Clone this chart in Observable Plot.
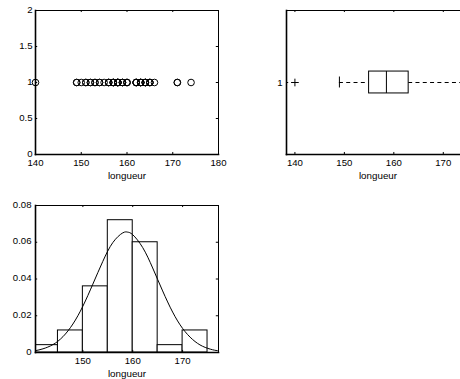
<!DOCTYPE html>
<html><head><meta charset="utf-8">
<script src="https://cdn.jsdelivr.net/npm/d3@7"></script>
<script src="https://cdn.jsdelivr.net/npm/@observablehq/plot@0.6"></script>
<style>
html,body{margin:0;padding:0;background:#fff;overflow:hidden;width:460px;height:379px}
#wrap{position:relative;width:460px;height:379px;overflow:hidden}
.p{position:absolute}
.p svg{max-width:none !important}
</style></head><body><div id="wrap"></div>
<script>
// Data (longueur, n = 50)
const longueur = [140, 149, 149, 150, 151, 151, 152, 152, 153, 153, 154, 154, 155,
  156, 156, 156, 157, 157, 157, 157, 158, 158, 158, 158, 158, 159, 159, 159, 160, 160, 160,
  162, 162, 162, 162, 163, 163, 163, 163, 164, 164, 164, 164, 165, 165, 165,
  166, 171, 171, 174];
const xTicks1 = [140, 150, 160, 170, 180];
const yTicks1 = [0, 0.5, 1, 1.5, 2];

// Boxplot statistics
const boxQ1 = [155], boxMedian = [158.5], boxQ3 = [163];
const whiskerLow = [149], whiskerHigh = [174];
const outliers = [140];
const xTicks2 = [140, 150, 160, 170];
const yTicks2 = [1];

// Histogram (density) and fitted normal curve
const binEdges = [140, 145, 150, 155, 160, 165, 170, 175];
const density = [0.004, 0.012, 0.036, 0.072, 0.060, 0.004, 0.012];
const curveX = [140.5, 142, 144, 146, 148, 150, 152, 154, 156, 158, 159, 160, 162, 164, 166, 168, 170, 172, 174, 176, 177.2];
const curveY = [0.0010, 0.0020, 0.0043, 0.0086, 0.0155, 0.0252, 0.0372, 0.0496, 0.0598, 0.0651, 0.0655, 0.0641, 0.0571, 0.0460, 0.0335, 0.0220, 0.0131, 0.0071, 0.0034, 0.0015, 0.0009];
const xTicks3 = [150, 160, 170];
const yTicks3 = [0, 0.02, 0.04, 0.06, 0.08];

const FONT = '"Liberation Sans", Arial, Helvetica, sans-serif';
const style = {fontFamily: FONT, fontSize: "9.6px", color: "#000", background: "transparent", overflow: "visible"};

function innerTicks(xt, yt, xd, yd, both = true) {
  const fx = (xd[1] - xd[0]) * 0.012, fy = (yd[1] - yd[0]) * 0.014;
  const m = [
    Plot.ruleX(xt, {x: d => d, y1: yd[0], y2: yd[0] + fy, stroke: "#000", strokeWidth: 1}),
    Plot.ruleX(xt, {x: d => d, y1: yd[1], y2: yd[1] - fy, stroke: "#000", strokeWidth: 1}),
    Plot.ruleY(yt, {y: d => d, x1: xd[0], x2: xd[0] + fx, stroke: "#000", strokeWidth: 1})
  ];
  if (both) m.push(Plot.ruleY(yt, {y: d => d, x1: xd[1], x2: xd[1] - fx, stroke: "#000", strokeWidth: 1}));
  return m;
}
function border() {
  return [
    Plot.frame({stroke: "#000", strokeWidth: 1}),
    Plot.frame({anchor: "left", stroke: "#000", strokeWidth: 1.6}),
    Plot.frame({anchor: "bottom", stroke: "#000", strokeWidth: 1.6})
  ];
}

function place(svg, left, top) {
  const d = document.createElement("div");
  d.className = "p"; d.style.left = left + "px"; d.style.top = top + "px";
  d.style.width = svg.getAttribute("width") + "px";
  svg.style.maxWidth = "none";
  d.appendChild(svg);
  document.getElementById("wrap").appendChild(d);
}

// Panel 1: points
const xd1 = [140, 180], yd1 = [0, 2];
const p1 = Plot.plot({
  width: 230, height: 190, marginLeft: 35, marginRight: 12, marginTop: 10, marginBottom: 36,
  style,
  x: {domain: xd1}, y: {domain: yd1},
  marks: [
    ...border(),
    ...innerTicks(xTicks1, yTicks1, xd1, yd1),
    Plot.axisX(xTicks1, {tickSize: 0, tickPadding: 5, label: null}),
    Plot.axisY(yTicks1, {tickSize: 0, tickPadding: 3, label: null, dy: -1, tickFormat: d => String(d)}),
    Plot.dot(longueur, {x: d => d, y: () => 1, r: 3.3, stroke: "#000", strokeWidth: 1}),
    Plot.text(["longueur"], {frameAnchor: "bottom", lineAnchor: "middle", dy: 21, fill: "#000", fontSize: 9.8})
  ]
});
place(p1, 0, 0);

// Panel 2: boxplot
const xd2 = [138.3, 175.3], yd2 = [0.5, 1.5];
const hb = 0.076, hc = 0.038;
const p2 = Plot.plot({
  width: 250, height: 190, marginLeft: 56, marginRight: 11, marginTop: 10, marginBottom: 36,
  style,
  x: {domain: xd2}, y: {domain: yd2},
  marks: [
    ...border(),
    ...innerTicks(xTicks2, yTicks2, xd2, yd2, false),
    Plot.axisX(xTicks2, {tickSize: 0, tickPadding: 5, label: null}),
    Plot.axisY(yTicks2, {tickSize: 0, tickPadding: 4, label: null, tickFormat: d => String(d)}),
    Plot.ruleY([0], {x1: () => whiskerLow[0], x2: () => boxQ1[0], y: () => 1, stroke: "#000", strokeDasharray: "4,3.3"}),
    Plot.ruleY([0], {x1: () => boxQ3[0], x2: () => whiskerHigh[0], y: () => 1, stroke: "#000", strokeDasharray: "4,3.3"}),
    Plot.ruleX(whiskerLow, {x: d => d, y1: 1 - hc, y2: 1 + hc, stroke: "#000"}),
    Plot.ruleX(whiskerHigh, {x: d => d, y1: 1 - hc, y2: 1 + hc, stroke: "#000"}),
    Plot.rect([0], {x1: () => boxQ1[0], x2: () => boxQ3[0], y1: 1 - hb, y2: 1 + hb, fill: "#fff", stroke: "#000"}),
    Plot.ruleX(boxMedian, {x: d => d, y1: 1 - hb, y2: 1 + hb, stroke: "#000"}),
    Plot.dot(outliers, {x: d => d, y: () => 1, symbol: "plus", r: 2.6, stroke: "#000", strokeWidth: 1}),
    Plot.text(["longueur"], {frameAnchor: "bottom", lineAnchor: "middle", dy: 21, fill: "#000", fontSize: 9.8})
  ]
});
place(p2, 230, 0);

// Panel 3: histogram + normal fit
const xd3 = [140.5, 177.2], yd3 = [0, 0.08];
const bins = density.map((v, i) => ({x1: binEdges[i], x2: binEdges[i + 1], y: v}));
const curve = curveX.map((x, i) => ({x, y: curveY[i]}));
const p3 = Plot.plot({
  width: 230, height: 189, marginLeft: 35, marginRight: 12, marginTop: 15, marginBottom: 27,
  style,
  x: {domain: xd3}, y: {domain: yd3},
  marks: [
    Plot.rect(bins, {x1: "x1", x2: "x2", y1: 0, y2: "y", fill: "#fff", stroke: "#000", strokeWidth: 1, clip: true}),
    Plot.line(curve, {x: "x", y: "y", stroke: "#000", strokeWidth: 1, curve: "natural", clip: true}),
    ...border(),
    ...innerTicks(xTicks3, yTicks3, xd3, yd3),
    Plot.axisX(xTicks3, {tickSize: 0, tickPadding: 5, label: null}),
    Plot.axisY(yTicks3, {tickSize: 0, tickPadding: 4, label: null, dy: -1, tickFormat: d => String(d)}),
    Plot.text(["longueur"], {frameAnchor: "bottom", lineAnchor: "middle", dy: 21, fill: "#000", fontSize: 9.8})
  ]
});
place(p3, 0, 190);
</script></body></html>
